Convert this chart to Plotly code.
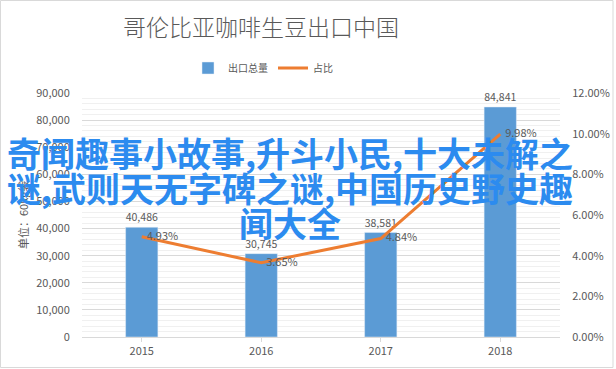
import plotly.graph_objects as go

years = ["2015", "2016", "2017", "2018"]
export_total = [40486, 30745, 38581, 84841]
share = [0.0493, 0.0365, 0.0484, 0.0998]

W, H = 616, 369
L, R, T, B = 82, 56, 93, 32
pw, ph = W - L - R, H - T - B

font_cn = "Noto Sans CJK SC, Microsoft YaHei, sans-serif"
gray = "#595959"

def px_x(x):
    return (x - L) / pw

def px_y(y):
    return 1 - (y - T) / ph

fig = go.Figure()
fig.add_trace(go.Bar(
    x=years, y=export_total, name="出口总量",
    marker_color="#5B9BD5", width=0.27,
    text=[f"{v:,}" for v in export_total], textposition="outside",
    textfont=dict(size=11, color=gray), cliponaxis=False,
))
fig.add_trace(go.Scatter(
    x=years, y=share, name="占比", yaxis="y2", mode="lines+text",
    line=dict(color="#ED7D31", width=3),
    text=["  " + f"{v*100:.2f}%" for v in share], textposition="middle right",
    textfont=dict(size=11, color=gray), cliponaxis=False,
))

fig.update_layout(
    width=W, height=H,
    margin=dict(l=L, r=R, t=T, b=B, autoexpand=False),
    paper_bgcolor="white", plot_bgcolor="white",
    font=dict(family=font_cn, color=gray),
    title=dict(text="哥伦比亚咖啡生豆出口中国", x=261 / W, xanchor="center",
               y=1 - 28 / H, yanchor="middle",
               font=dict(size=23, color=gray, weight=300)),
    legend=dict(orientation="h", x=px_x(263), xanchor="center", y=px_y(68),
                yanchor="middle", font=dict(size=10, color=gray)),
    bargap=0.73,
    xaxis=dict(showline=True, linecolor="#D9D9D9", ticks="outside",
               tickcolor="#D9D9D9", ticklen=4, tickfont=dict(size=11, color=gray),
               showgrid=False, automargin=False),
    yaxis=dict(range=[0, 90000], dtick=10000, tickformat=",",
               showgrid=True, gridcolor="#D9D9D9", gridwidth=1,
               minor=dict(dtick=2000, showgrid=True, gridcolor="#F0F0F0"),
               zeroline=False, tickfont=dict(size=11, color=gray),
               ticks="outside", ticklen=9, tickcolor="rgba(0,0,0,0)",
               automargin=False),
    yaxis2=dict(range=[0, 0.12], dtick=0.02, tickformat=".2%", overlaying="y",
                side="right", showgrid=False, zeroline=False,
                ticks="outside", ticklen=9, tickcolor="rgba(0,0,0,0)",
                tickfont=dict(size=11, color=gray), automargin=False),
)

fig.add_annotation(
    text="单位：60kg袋", textangle=-90,
    xref="paper", yref="paper", x=px_x(23), y=px_y(215),
    xanchor="center", yanchor="middle", showarrow=False,
    font=dict(size=11, color=gray),
)

wm_lines = ["奇闻趣事小故事,升斗小民,十大未解之",
            "谜,武则天无字碑之谜,中国历史野史趣",
            "闻大全"]
wm_y = [152, 187, 222]
for line, yy in zip(wm_lines, wm_y):
    fig.add_annotation(
        text=line, xref="paper", yref="paper", x=px_x(290), y=px_y(yy),
        xanchor="center", yanchor="middle", showarrow=False,
        font=dict(size=34, color="#2C8BEF", family=font_cn, weight="bold"),
    )

fig.add_shape(type="rect", xref="paper", yref="paper",
              x0=px_x(0.5), x1=px_x(613),
              y0=px_y(0.5), y1=px_y(367.5),
              line=dict(color="#D9D9D9", width=1), layer="below")

fig.write_html(
    "out.html",
    config={"displayModeBar": False},
    post_script="document.body.style.margin='0';document.body.style.padding='0';",
)
